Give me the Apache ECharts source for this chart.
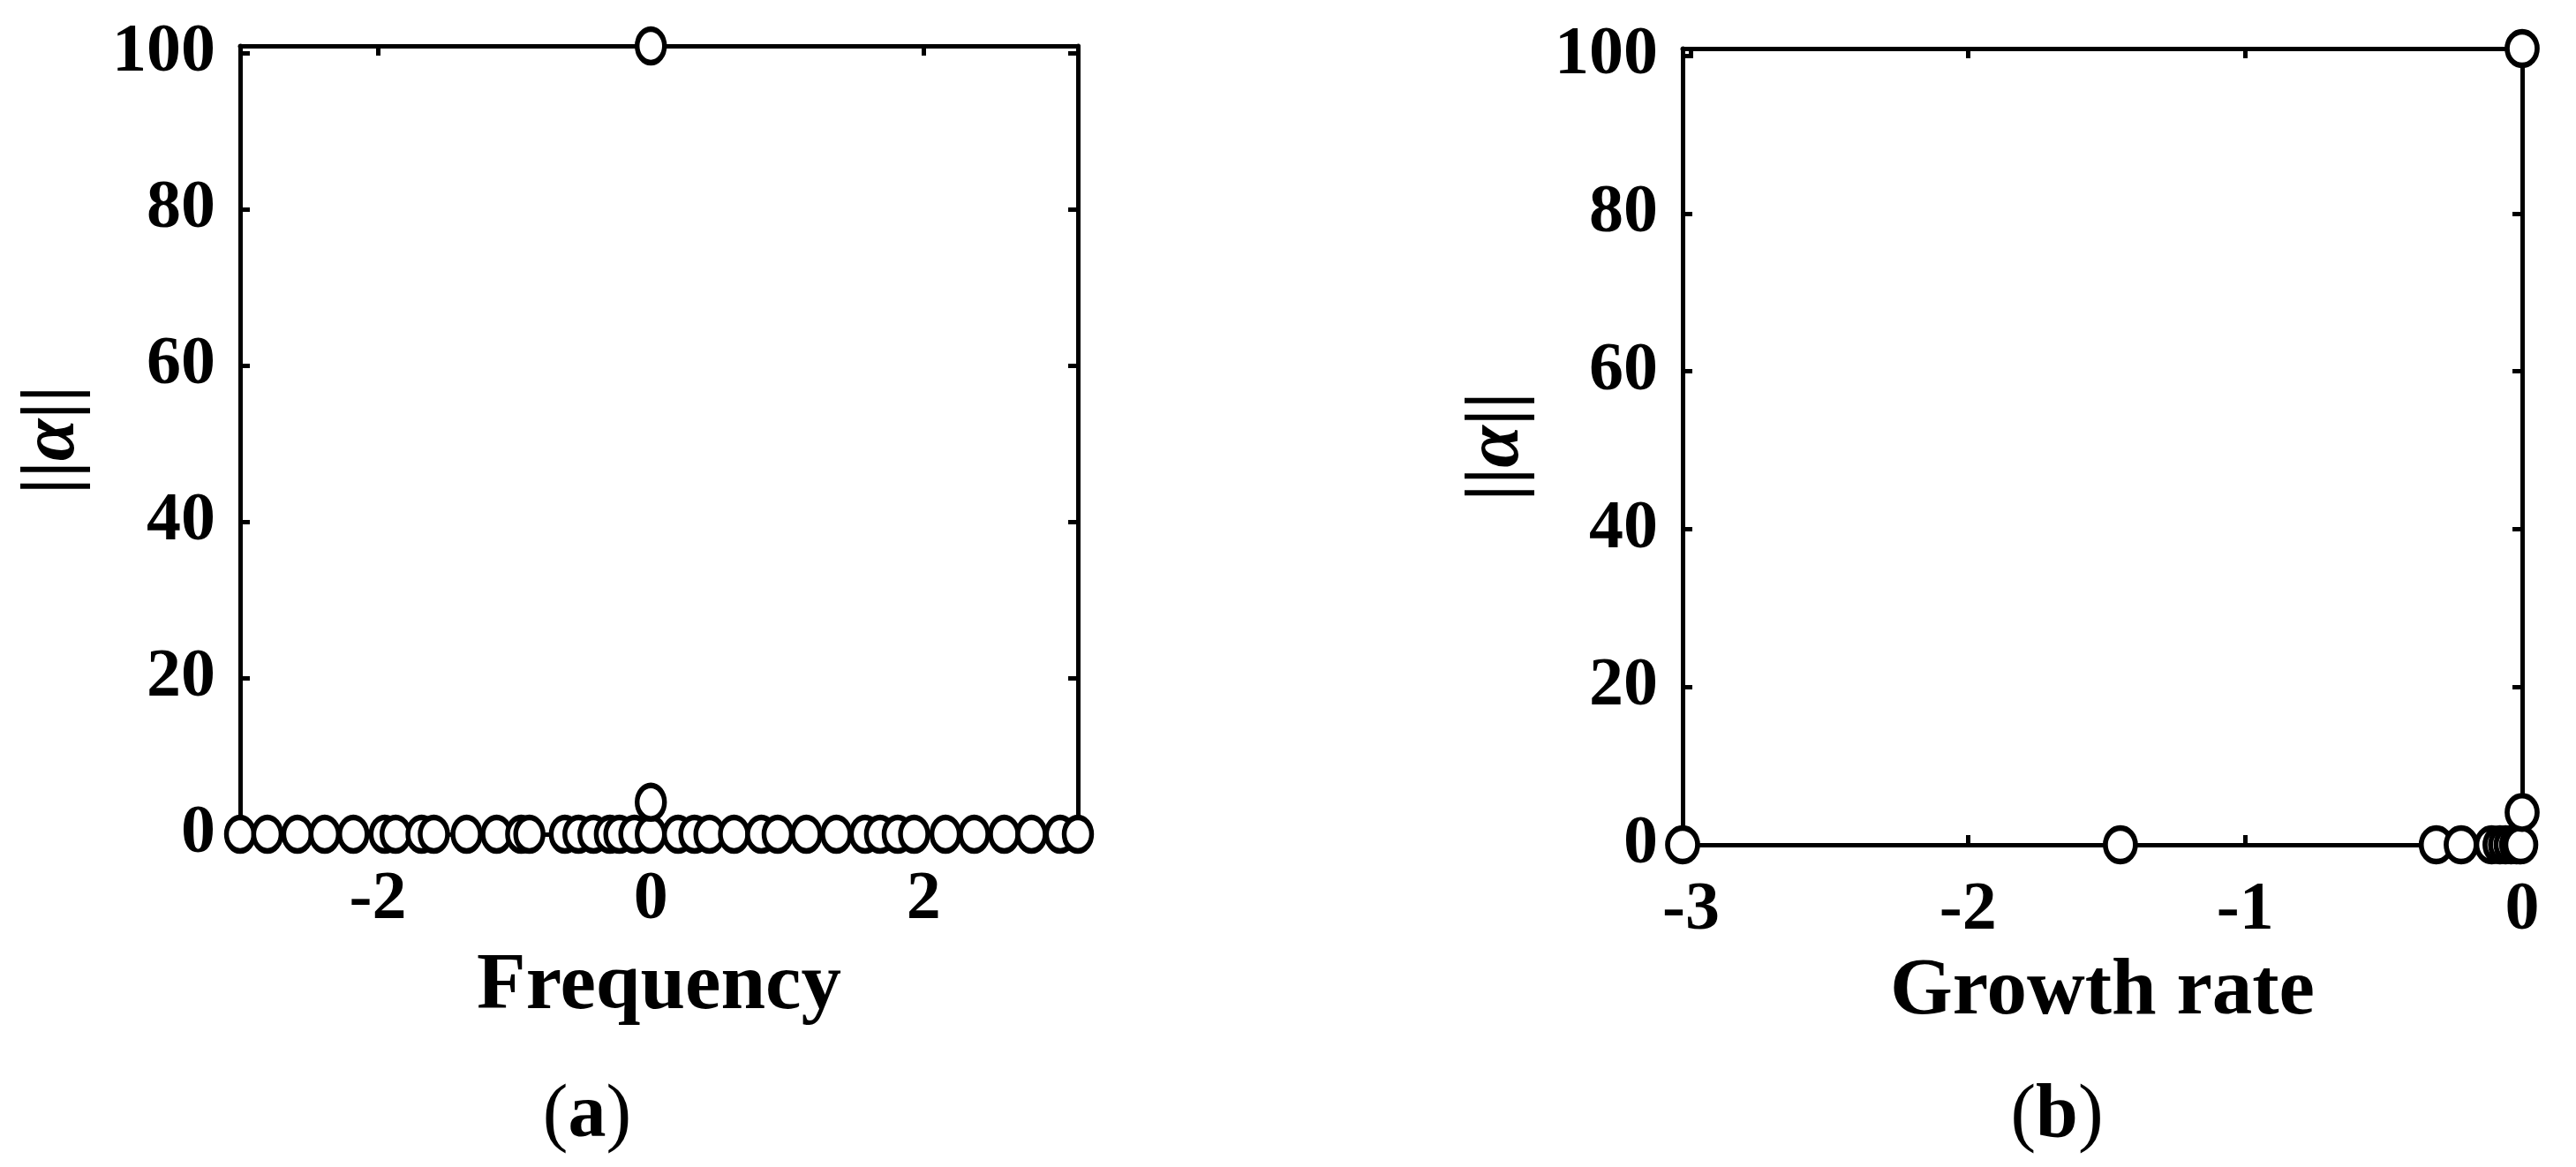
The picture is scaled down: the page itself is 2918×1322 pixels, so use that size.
<!DOCTYPE html>
<html>
<head>
<meta charset="utf-8">
<script src="https://cdn.jsdelivr.net/npm/echarts@6/dist/echarts.min.js"></script>
<style>
html,body{margin:0;padding:0;background:#fff;}
#chart{width:2918px;height:1322px;}
</style>
</head>
<body>
<div id="chart"></div>
<script>
// ---- data ----
// (a) mode norm vs frequency
const freqA = [-3.01, -2.81, -2.59, -2.39, -2.18, -1.95, -1.87, -1.68, -1.59, -1.35,
               -1.13, -0.95, -0.89, -0.63, -0.53, -0.42, -0.30, -0.23, -0.12, 0,
                0.20, 0.32, 0.43, 0.61, 0.81, 0.93, 1.14, 1.36, 1.57, 1.68,
                1.81, 1.93, 2.16, 2.37, 2.59, 2.79, 3.00, 3.13, 0, 0];
const normA = [0, 0, 0, 0, 0, 0, 0, 0, 0, 0,
               0, 0, 0, 0, 0, 0, 0, 0, 0, 0,
               0, 0, 0, 0, 0, 0, 0, 0, 0, 0,
               0, 0, 0, 0, 0, 0, 0, 0, 4.1, 100.9];
// (b) mode norm vs growth rate
const rateB = [-3.03, -1.45, -0.31, -0.22, -0.11, -0.08, -0.06, -0.04, -0.02, -0.01, -0.005, 0, 0];
const normB = [0, 0, 0, 0, 0, 0, 0, 0, 0, 0, 0, 4.1, 100.9];
// ticks
const xTicksA = [-2, 0, 2];
const xTicksB = [-3, -2, -1, 0];
const yTicks = [0, 20, 40, 60, 80, 100];
const xRangeA = [-3.01, 3.13];
const xRangeB = [-3.03, 0];
const yRange = [0, 100.9];

const FONT = 'Liberation Serif';
const BLACK = '#000';

const ptsA = freqA.map((f, i) => [f, normA[i]]);
const ptsB = rateB.map((r, i) => [r, normB[i]]);

function frameAxis(gridIndex, pos, range, ticks, extra) {
  return Object.assign({
    type: 'value', gridIndex: gridIndex, position: pos,
    min: range[0], max: range[1],
    axisLine: { show: true, onZero: false, lineStyle: { color: BLACK, width: 5 } },
    axisTick: { show: true, inside: true, length: 11, lineStyle: { color: BLACK, width: 5 }, customValues: ticks },
    axisLabel: { show: false },
    splitLine: { show: false }
  }, extra || {});
}
function labelCfg(ticks, margin) {
  return { show: true, customValues: ticks, margin: margin, color: BLACK,
           fontFamily: FONT, fontWeight: 'bold', fontSize: 78 };
}
const yName = '{b|||}{a|α}{b|||}';
const yNameStyle = {
  rich: {
    b: { fontFamily: FONT, fontWeight: 'bold', fontSize: 86, color: BLACK },
    a: { fontFamily: FONT, fontWeight: 'bold', fontStyle: 'italic', fontSize: 86, color: BLACK }
  }
};
const xNameStyle = { fontFamily: FONT, fontWeight: 'bold', fontSize: 91, color: BLACK };

const option = {
  backgroundColor: '#fff',
  animation: false,
  grid: [
    { left: 272, top: 52, width: 949, height: 893 },
    { left: 1906, top: 55, width: 951, height: 902 }
  ],
  xAxis: [
    frameAxis(0, 'bottom', xRangeA, xTicksA, {
      axisLabel: labelCfg(xTicksA, 36),
      name: 'Frequency', nameLocation: 'middle', nameGap: 128, nameTextStyle: xNameStyle
    }),
    frameAxis(0, 'top', xRangeA, xTicksA),
    frameAxis(1, 'bottom', xRangeB, xTicksB, {
      axisLabel: labelCfg(xTicksB, 36),
      name: 'Growth rate', nameLocation: 'middle', nameGap: 122, nameTextStyle: xNameStyle
    }),
    frameAxis(1, 'top', xRangeB, xTicksB)
  ],
  yAxis: [
    frameAxis(0, 'left', yRange, yTicks, {
      axisLabel: labelCfg(yTicks, 28),
      name: yName, nameLocation: 'middle', nameGap: 168, nameTextStyle: yNameStyle
    }),
    frameAxis(0, 'right', yRange, yTicks),
    frameAxis(1, 'left', yRange, yTicks, {
      axisLabel: labelCfg(yTicks, 28),
      name: yName, nameLocation: 'middle', nameGap: 166, nameTextStyle: yNameStyle
    }),
    frameAxis(1, 'right', yRange, yTicks)
  ],
  series: [
    {
      type: 'scatter', xAxisIndex: 0, yAxisIndex: 0, data: ptsA, clip: false,
      symbol: 'circle', symbolSize: [31, 38],
      itemStyle: { color: '#fff', borderColor: BLACK, borderWidth: 6, opacity: 1 },
      emphasis: { disabled: true }
    },
    {
      type: 'scatter', xAxisIndex: 2, yAxisIndex: 2, data: ptsB, clip: false,
      symbol: 'circle', symbolSize: [34, 38],
      itemStyle: { color: '#fff', borderColor: BLACK, borderWidth: 6, opacity: 1 },
      emphasis: { disabled: true }
    }
  ],
  graphic: [
    { type: 'text', left: 'center', top: 0, style: { text: '' } },
    { type: 'text', x: 665, y: 1265, style: {
        text: '{p|(}{t|a}{p|)}', align: 'center', verticalAlign: 'middle',
        rich: { p: { fontFamily: FONT, fontSize: 86, color: BLACK },
                t: { fontFamily: FONT, fontWeight: 'bold', fontSize: 86, color: BLACK } } } },
    { type: 'text', x: 2330, y: 1265, style: {
        text: '{p|(}{t|b}{p|)}', align: 'center', verticalAlign: 'middle',
        rich: { p: { fontFamily: FONT, fontSize: 86, color: BLACK },
                t: { fontFamily: FONT, fontWeight: 'bold', fontSize: 86, color: BLACK } } } }
  ]
};

const chart = echarts.init(document.getElementById('chart'), null, { renderer: 'canvas' });
chart.setOption(option);
</script>
</body>
</html>
